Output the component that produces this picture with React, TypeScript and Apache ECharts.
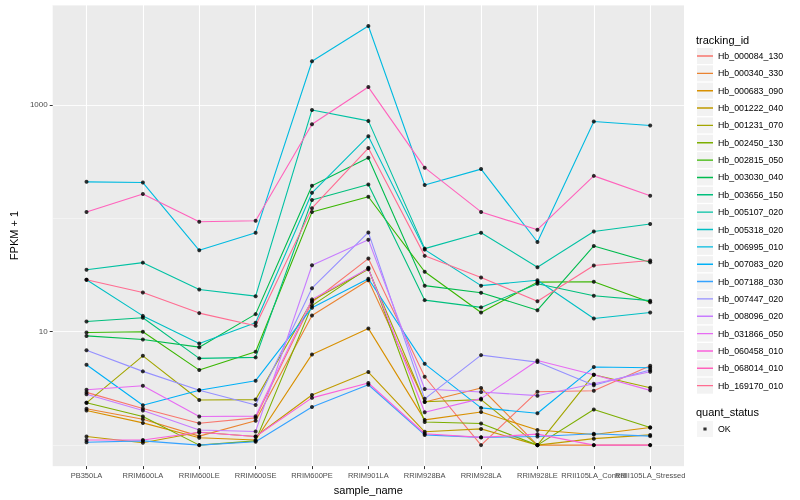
import React, { useEffect, useRef } from "react";
import * as echarts from "echarts";

const sampleNames = [
  "PB350LA", "RRIM600LA", "RRIM600LE", "RRIM600SE", "RRIM600PE", "RRIM901LA",
  "RRIM928BA", "RRIM928LA", "RRIM928LE", "RRII105LA_Control", "RRII105LA_Stressed",
];

const trackingIds = [
  "Hb_000084_130", "Hb_000340_330", "Hb_000683_090", "Hb_001222_040", "Hb_001231_070",
  "Hb_002450_130", "Hb_002815_050", "Hb_003030_040", "Hb_003656_150", "Hb_005107_020",
  "Hb_005318_020", "Hb_006995_010", "Hb_007083_020", "Hb_007188_030", "Hb_007447_020",
  "Hb_008096_020", "Hb_031866_050", "Hb_060458_010", "Hb_068014_010", "Hb_169170_010",
];

const hueColors = [
  "#F8766D", "#EA8331", "#D89000", "#C09B00", "#A3A500",
  "#7CAE00", "#39B600", "#00BB4E", "#00BF7D", "#00C1A3",
  "#00BFC4", "#00BAE0", "#00B0F6", "#35A2FF", "#9590FF",
  "#C77CFF", "#E76BF3", "#FA62DB", "#FF62BC", "#FF6C91",
];

// FPKM + 1 per sample (same order as sampleNames)
const hb_000084_130 = [2.92, 2.10, 1.56, 1.74, 18.2, 44.2, 4.01, 1.0, 2.96, 3.02, 5.01];
const hb_000340_330 = [2.09, 1.69, 1.20, 1.64, 13.9, 28.5, 2.40, 3.19, 1.0, 1.0, 1.0];
const hb_000683_090 = [2.02, 1.57, 1.16, 1.11, 6.31, 10.7, 1.67, 1.96, 1.36, 1.24, 1.43];
const hb_001222_040 = [1.19, 1.05, 1.30, 1.19, 2.77, 4.41, 1.31, 1.39, 1.0, 1.14, 1.23];
const hb_001231_070 = [2.36, 6.13, 2.50, 2.52, 18.8, 35.6, 2.41, 2.52, 1.0, 4.18, 3.21];
const hb_002450_130 = [2.36, 1.79, 1.0, 1.09, 17.0, 36.6, 1.60, 1.55, 1.0, 2.06, 1.43];
const hb_002815_050 = [9.84, 10.0, 4.59, 6.65, 113.6, 155, 33.8, 14.8, 27.4, 27.6, 18.2];
const hb_003030_040 = [9.19, 8.55, 7.31, 14.3, 194, 343, 25.5, 22.1, 15.5, 57.1, 41.0];
const hb_003656_150 = [12.3, 13.3, 5.82, 5.94, 145, 199, 19.0, 16.4, 26.5, 20.8, 18.8];
const hb_005107_020 = [35.2, 40.7, 23.6, 20.6, 904, 724, 54.1, 74.8, 37.1, 76.7, 89.1];
const hb_005318_020 = [28.7, 13.8, 7.87, 12.0, 168, 531, 53.0, 25.5, 28.5, 13.1, 14.8];
const hb_006995_010 = [210, 207, 52.3, 74.8, 2433, 4980, 197, 272, 61.9, 715, 659];
const hb_007083_020 = [5.11, 2.25, 3.05, 3.70, 16.3, 29.3, 5.21, 2.13, 1.91, 4.88, 4.81];
const hb_007188_030 = [1.06, 1.09, 1.0, 1.07, 2.17, 3.41, 1.23, 1.17, 1.19, 1.26, 1.20];
const hb_007447_020 = [6.88, 4.47, 3.05, 2.26, 24.2, 75.2, 2.56, 6.22, 5.40, 3.37, 4.59];
const hb_008096_020 = [2.81, 2.02, 1.36, 1.32, 38.6, 64.9, 3.13, 2.94, 2.73, 3.48, 4.44];
const hb_031866_050 = [3.08, 3.34, 1.79, 1.80, 19.3, 36.1, 1.95, 2.57, 5.58, 4.18, 3.04];
const hb_060458_010 = [1.11, 1.11, 1.30, 1.19, 2.61, 3.53, 1.26, 1.17, 1.25, 1.0, 1.0];
const hb_068014_010 = [113.6, 164, 93.3, 95.2, 677, 1439, 280, 114, 79.4, 237, 158];
const hb_169170_010 = [28.7, 22.2, 14.6, 11.3, 123, 417, 46.7, 30.1, 18.6, 38.4, 42.5];

const seriesValues = [
  hb_000084_130, hb_000340_330, hb_000683_090, hb_001222_040, hb_001231_070,
  hb_002450_130, hb_002815_050, hb_003030_040, hb_003656_150, hb_005107_020,
  hb_005318_020, hb_006995_010, hb_007083_020, hb_007188_030, hb_007447_020,
  hb_008096_020, hb_031866_050, hb_060458_010, hb_068014_010, hb_169170_010,
];

const yTickValues = [10, 1000];
const quantStatus = ["OK"];

export default function App() {
  const ref = useRef<HTMLDivElement>(null);

  useEffect(() => {
    if (!ref.current) return;
    const chart = echarts.init(ref.current, null, { renderer: "svg" });
    const font = "'Liberation Sans', Arial, Helvetica, sans-serif";
    const xIdx = sampleNames.map((_, i) => i + 1);
    const xIdxMain = xIdx.slice(0, xIdx.length - 1);
    const xIdxLast = xIdx.slice(xIdx.length - 1);
    const yMin = 0.653;
    const yMax = 7620;

    const lineSeries = trackingIds.map((id, k) => ({
      name: id,
      type: "line",
      data: seriesValues[k].map((v, i) => [i + 1, v]),
      showSymbol: false,
      symbol: "none",
      lineStyle: { width: 1.1, color: hueColors[k] },
      itemStyle: { color: hueColors[k] },
      silent: true,
      emphasis: { disabled: true },
      xAxisIndex: 0,
      yAxisIndex: 0,
      z: 2,
    }));

    const points = seriesValues.flatMap((vals) => vals.map((v, i) => [i + 1, v]));

    const LINE_ICON =
      "path://M0,0h0.02v0.02h-0.02z M0,7.3h16v1.4h-16z M15.98,15.98h0.02v0.02h-0.02z";
    const DOT_ICON =
      "path://M0,0h0.02v0.02h-0.02z M6.4,6.4h3.2v3.2h-3.2z M15.98,15.98h0.02v0.02h-0.02z";

    const legendBase = {
      orient: "vertical",
      left: 697,
      itemWidth: 16,
      itemHeight: 16,
      itemGap: 1.35,
      padding: 0,
      selectedMode: false,
    };

    const xLabelStyle = {
      formatter: (v: number) => sampleNames[Math.round(v) - 1] ?? "",
      color: "#4D4D4D",
      fontSize: 7.5,
      margin: 5,
      fontFamily: font,
      hideOverlap: false,
    };

    chart.setOption({
      animation: false,
      textStyle: { fontFamily: font },
      title: [
        {
          text: "tracking_id",
          left: 696,
          top: 34,
          padding: 0,
          textStyle: { fontSize: 11, fontWeight: "normal", color: "#000", fontFamily: font },
        },
        {
          text: "quant_status",
          left: 696,
          top: 406,
          padding: 0,
          textStyle: { fontSize: 11, fontWeight: "normal", color: "#000", fontFamily: font },
        },
      ],
      legend: [
        {
          ...legendBase,
          top: 48,
          data: trackingIds,
          icon: "rect",
          itemStyle: { color: "#F2F2F2", borderWidth: 0 },
          textStyle: { color: "rgba(0,0,0,0)", fontSize: 8.8, fontFamily: font },
          z: 3,
        },
        {
          ...legendBase,
          top: 48,
          data: trackingIds,
          icon: LINE_ICON,
          itemStyle: { borderWidth: 0 },
          textStyle: { color: "#000", fontSize: 8.8, fontFamily: font },
          z: 4,
        },
        {
          ...legendBase,
          top: 421,
          data: quantStatus,
          icon: "rect",
          itemStyle: { color: "#F2F2F2", borderWidth: 0 },
          textStyle: { color: "rgba(0,0,0,0)", fontSize: 8.8, fontFamily: font },
          z: 3,
        },
        {
          ...legendBase,
          top: 421,
          data: quantStatus,
          icon: DOT_ICON,
          itemStyle: { color: "#000", borderWidth: 0 },
          textStyle: { color: "#000", fontSize: 8.8, fontFamily: font },
          z: 4,
        },
      ],
      grid: {
        left: 45,
        right: 116,
        top: 5,
        bottom: 32,
        show: true,
        backgroundColor: "#EBEBEB",
        borderWidth: 0,
      },
      xAxis: [
        {
          type: "value",
          position: "bottom",
          min: 0.4,
          max: 11.6,
          axisLine: { show: false },
          axisTick: {
            show: true,
            customValues: xIdx,
            length: 3,
            lineStyle: { color: "#333333", width: 1 },
          },
          axisLabel: { ...xLabelStyle, customValues: xIdxMain },
          splitLine: { show: true, lineStyle: { color: "#FFFFFF", width: 1.1 } },
          name: "sample_name",
          nameLocation: "middle",
          nameGap: 14,
          nameTextStyle: { fontSize: 11, color: "#000", fontFamily: font },
        },
        {
          type: "value",
          position: "bottom",
          min: 0.4,
          max: 11.6,
          axisLine: { show: false },
          axisTick: { show: false, customValues: xIdxLast },
          axisLabel: { ...xLabelStyle, customValues: xIdxLast },
          splitLine: { show: false },
        },
      ],
      yAxis: [
        {
          type: "log",
          logBase: 10,
          min: yMin,
          max: yMax,
          axisLine: { show: false },
          axisTick: {
            show: true,
            customValues: yTickValues,
            length: 3,
            lineStyle: { color: "#333333", width: 1 },
          },
          axisLabel: {
            customValues: yTickValues,
            formatter: (v: number) => String(Math.round(v)),
            color: "#4D4D4D",
            fontSize: 8,
            margin: 5,
            fontFamily: font,
          },
          splitLine: { show: true, lineStyle: { color: "#FFFFFF", width: 1.1 } },
          name: "FPKM + 1",
          nameLocation: "middle",
          nameGap: 28,
          nameTextStyle: { fontSize: 11, color: "#000", fontFamily: font },
        },
        {
          type: "log",
          logBase: 10,
          min: yMin,
          max: yMax,
          position: "left",
          axisLine: { show: false },
          axisTick: { show: false },
          axisLabel: { show: false },
          splitLine: { show: true, lineStyle: { color: "#FAFAFA", width: 0.55 } },
        },
      ],
      series: [
        ...lineSeries,
        {
          name: "OK",
          type: "scatter",
          data: points,
          symbol: "circle",
          symbolSize: 4,
          itemStyle: { color: "#000000" },
          silent: true,
          emphasis: { disabled: true },
          xAxisIndex: 0,
          yAxisIndex: 0,
          z: 3,
        },
      ],
    });

    return () => chart.dispose();
  }, []);

  return (
    <div
      ref={ref}
      style={{ position: "fixed", left: 0, top: 0, width: 800, height: 500 }}
    />
  );
}
